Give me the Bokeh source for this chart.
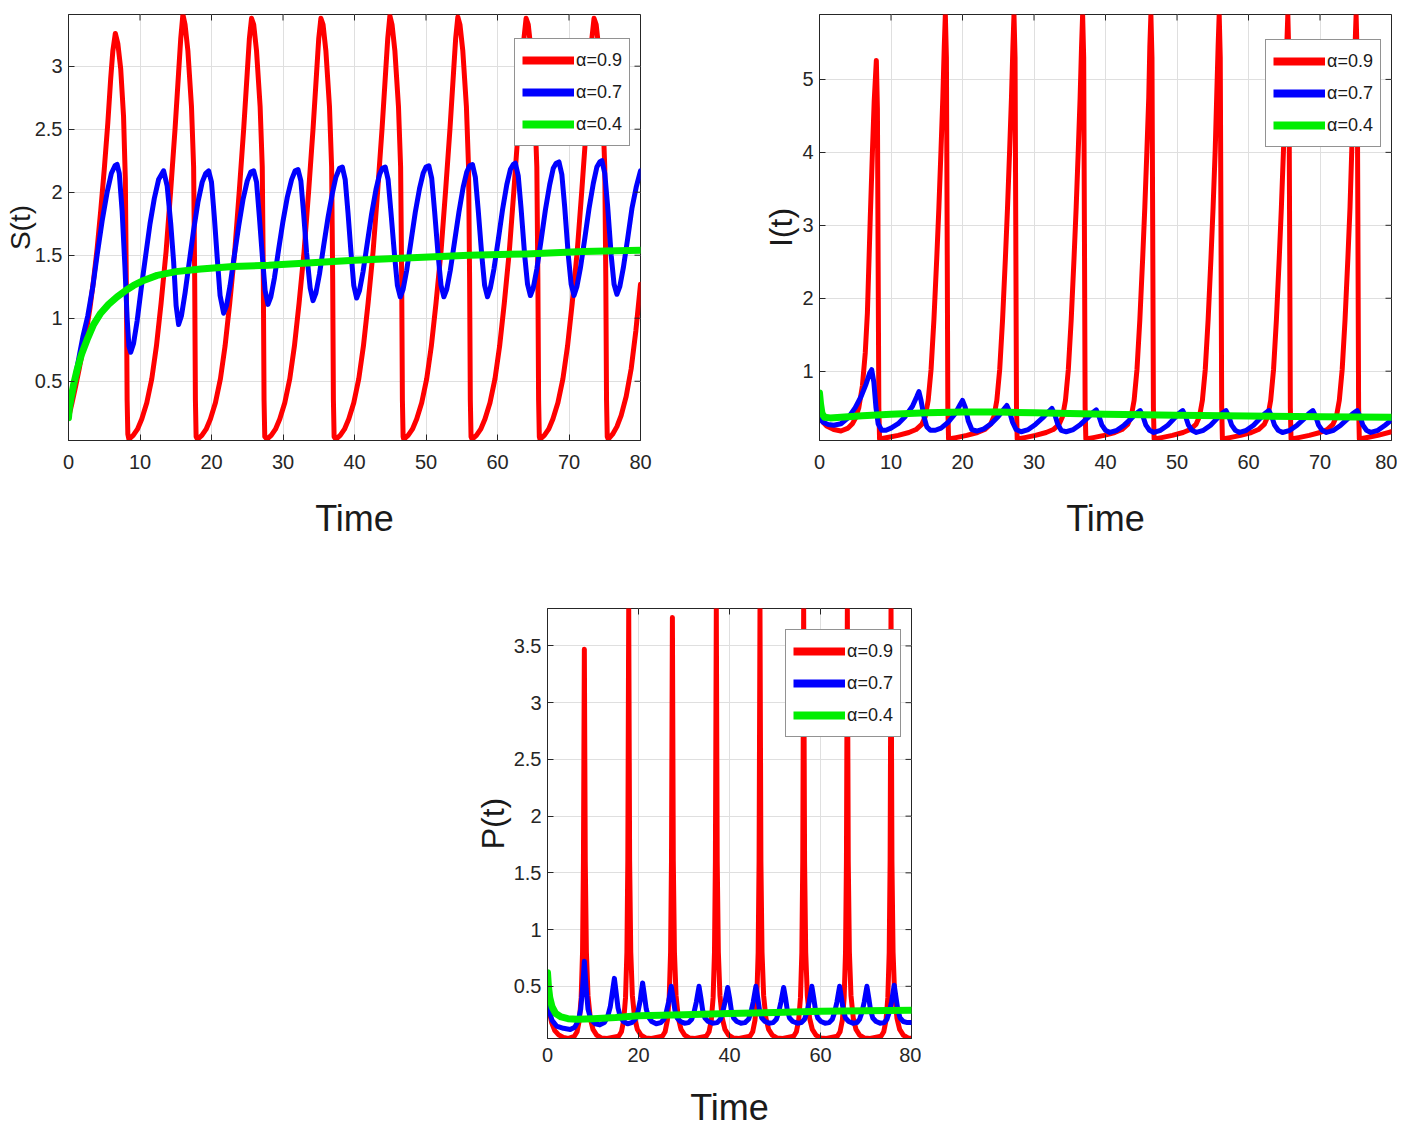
from bokeh.plotting import figure
from bokeh.models import (Range1d, FixedTicker, CustomJSTickFormatter,
                          Legend, LegendItem, Spacer)
from bokeh.layouts import column, row
from bokeh.embed import file_html
from bokeh.resources import INLINE

# ---------------- data ----------------
series_labels = ["α=0.9", "α=0.7", "α=0.4"]
x_ticks_top = [0, 10, 20, 30, 40, 50, 60, 70, 80]
x_ticks_bottom = [0, 20, 40, 60, 80]
s_ticks = [0.5, 1, 1.5, 2, 2.5, 3]
i_ticks = [1, 2, 3, 4, 5]
p_ticks = [0.5, 1, 1.5, 2, 2.5, 3, 3.5]

# S(t), alpha = 0.9
t_S_red = [0, 0.5, 1.0, 1.5, 2.0, 2.5, 3.0, 3.5, 4.0, 4.5, 5.0, 5.5, 5.9, 6.2, 6.55, 6.9, 7.3, 7.7, 7.95, 8.1, 8.2, 8.3, 8.45,
           9.05, 9.65, 10.25, 10.95, 11.65, 12.3, 12.95, 13.65, 14.3, 14.9, 15.4, 15.7, 16.0, 16.3, 16.7, 17.2, 17.5, 17.65, 17.75, 17.85, 18.05,
           18.65, 19.25, 19.85, 20.55, 21.25, 21.9, 22.55, 23.25, 23.9, 24.5, 25.0, 25.3, 25.6, 25.9, 26.3, 26.8, 27.1, 27.25, 27.35, 27.45, 27.75,
           28.35, 28.95, 29.55, 30.25, 30.95, 31.6, 32.25, 32.95, 33.6, 34.2, 34.7, 35.0, 35.3, 35.6, 36.0, 36.5, 36.8, 36.95, 37.05, 37.15, 37.4,
           38.0, 38.6, 39.2, 39.9, 40.6, 41.25, 41.9, 42.6, 43.25, 43.85, 44.35, 44.65, 44.95, 45.25, 45.65, 46.15, 46.45, 46.6, 46.7, 46.8, 46.9,
           47.5, 48.1, 48.7, 49.4, 50.1, 50.75, 51.4, 52.1, 52.75, 53.35, 53.85, 54.15, 54.45, 54.75, 55.15, 55.65, 55.95, 56.1, 56.2, 56.3, 56.45,
           57.05, 57.65, 58.25, 58.95, 59.65, 60.3, 60.95, 61.65, 62.3, 62.9, 63.4, 63.7, 64.0, 64.3, 64.7, 65.2, 65.5, 65.65, 65.75, 65.85, 65.95,
           66.55, 67.15, 67.75, 68.45, 69.15, 69.8, 70.45, 71.15, 71.8, 72.4, 72.9, 73.2, 73.5, 73.8, 74.2, 74.7, 75.0, 75.15, 75.25, 75.35, 75.5,
           76.1, 76.7, 77.3, 78.0, 78.7, 79.35, 80.0]
S_red = [0.21, 0.33, 0.46, 0.6, 0.75, 0.9, 1.08, 1.3, 1.55, 1.85, 2.18, 2.55, 2.9, 3.12, 3.26, 3.18, 2.98, 2.6, 2.1, 1.2, 0.35, 0.08, 0.04,
         0.07, 0.12, 0.2, 0.33, 0.52, 0.78, 1.12, 1.53, 2.02, 2.5, 2.95, 3.22, 3.41, 3.33, 3.12, 2.68, 2.2, 1.3, 0.35, 0.06, 0.04,
         0.07, 0.12, 0.2, 0.33, 0.52, 0.78, 1.12, 1.53, 2.02, 2.5, 2.95, 3.22, 3.38, 3.33, 3.12, 2.68, 2.2, 1.3, 0.35, 0.06, 0.04,
         0.07, 0.12, 0.2, 0.33, 0.52, 0.78, 1.12, 1.53, 2.02, 2.5, 2.95, 3.22, 3.38, 3.33, 3.12, 2.68, 2.2, 1.3, 0.35, 0.06, 0.04,
         0.07, 0.12, 0.2, 0.33, 0.52, 0.78, 1.12, 1.53, 2.02, 2.5, 2.95, 3.22, 3.40, 3.33, 3.12, 2.68, 2.2, 1.3, 0.35, 0.06, 0.04,
         0.07, 0.12, 0.2, 0.33, 0.52, 0.78, 1.12, 1.53, 2.02, 2.5, 2.95, 3.22, 3.39, 3.33, 3.12, 2.68, 2.2, 1.3, 0.35, 0.06, 0.04,
         0.07, 0.12, 0.2, 0.33, 0.52, 0.78, 1.12, 1.53, 2.02, 2.5, 2.95, 3.22, 3.38, 3.33, 3.12, 2.68, 2.2, 1.3, 0.35, 0.06, 0.04,
         0.07, 0.12, 0.2, 0.33, 0.52, 0.78, 1.12, 1.53, 2.02, 2.5, 2.95, 3.22, 3.38, 3.33, 3.12, 2.68, 2.2, 1.3, 0.35, 0.06, 0.04,
         0.08, 0.14, 0.23, 0.38, 0.6, 0.9, 1.27]

# S(t), alpha = 0.7
t_S_blue = [0, 0.5, 1.0, 1.5, 2.0, 2.7, 3.4, 4.0, 4.7, 5.4, 6.0, 6.5, 6.8, 7.1, 7.5, 7.9, 8.2, 8.45, 8.7, 9.1,
            9.6, 10.2, 10.8, 11.4, 12.0, 12.6, 13.3, 13.8, 14.3, 14.7, 15.05, 15.4,
            15.8, 16.3, 16.9, 17.5, 18.1, 18.7, 19.2, 19.6, 20.0, 20.4, 20.8, 21.2, 21.7,
            22.1, 22.6, 23.2, 23.8, 24.4, 25.0, 25.5, 25.9, 26.3, 26.7, 27.1, 27.5, 27.9,
            28.3, 28.8, 29.4, 30.0, 30.6, 31.2, 31.7, 32.1, 32.5, 32.9, 33.3, 33.8, 34.2,
            34.6, 35.1, 35.7, 36.3, 36.9, 37.4, 37.9, 38.3, 38.7, 39.1, 39.5, 39.9, 40.3,
            40.7, 41.2, 41.8, 42.4, 43.0, 43.5, 43.9, 44.3, 44.7, 45.1, 45.6, 46.0, 46.4,
            46.8, 47.3, 47.9, 48.5, 49.1, 49.6, 50.0, 50.4, 50.8, 51.2, 51.7, 52.1, 52.5,
            52.9, 53.4, 54.0, 54.6, 55.2, 55.7, 56.1, 56.5, 56.9, 57.3, 57.8, 58.2, 58.6,
            59.0, 59.5, 60.1, 60.7, 61.3, 61.8, 62.2, 62.5, 62.9, 63.3, 63.8, 64.2, 64.6,
            65.0, 65.5, 66.1, 66.7, 67.3, 67.8, 68.2, 68.6, 69.0, 69.4, 69.9, 70.3, 70.7,
            71.1, 71.6, 72.2, 72.8, 73.4, 73.9, 74.3, 74.6, 75.0, 75.4, 75.9, 76.3, 76.7,
            77.1, 77.6, 78.2, 78.8, 79.4, 80.0]
S_blue = [0.22, 0.38, 0.55, 0.7, 0.85, 1.02, 1.25, 1.5, 1.77, 2.0, 2.15, 2.21, 2.22, 2.15, 1.85, 1.4, 1.0, 0.78, 0.73, 0.8,
          0.98, 1.25, 1.5, 1.75, 1.95, 2.1, 2.17, 2.05, 1.75, 1.45, 1.1, 0.95,
          1.02, 1.2, 1.45, 1.7, 1.92, 2.08, 2.15, 2.17, 2.08, 1.8, 1.48, 1.18, 1.04,
          1.1, 1.26, 1.5, 1.73, 1.94, 2.09, 2.16, 2.17, 2.08, 1.8, 1.5, 1.22, 1.11,
          1.17, 1.32, 1.55, 1.77, 1.96, 2.1, 2.17, 2.18, 2.09, 1.82, 1.52, 1.24, 1.14,
          1.2, 1.35, 1.58, 1.8, 1.99, 2.12, 2.19, 2.2, 2.1, 1.83, 1.53, 1.26, 1.16,
          1.22, 1.37, 1.6, 1.83, 2.02, 2.14, 2.19, 2.2, 2.1, 1.84, 1.5, 1.26, 1.17,
          1.23, 1.38, 1.61, 1.84, 2.03, 2.15, 2.2, 2.21, 2.11, 1.85, 1.5, 1.26, 1.17,
          1.23, 1.38, 1.61, 1.84, 2.04, 2.16, 2.21, 2.22, 2.12, 1.86, 1.5, 1.26, 1.17,
          1.24, 1.39, 1.62, 1.86, 2.06, 2.18, 2.22, 2.23, 2.13, 1.87, 1.5, 1.27, 1.18,
          1.24, 1.39, 1.62, 1.86, 2.06, 2.19, 2.23, 2.24, 2.14, 1.88, 1.5, 1.27, 1.18,
          1.25, 1.4, 1.63, 1.87, 2.07, 2.2, 2.24, 2.25, 2.15, 1.89, 1.5, 1.27, 1.19,
          1.25, 1.4, 1.63, 1.87, 2.04, 2.17]

# S(t), alpha = 0.4
t_S_green = [0, 0.1, 0.3, 0.7, 1.2, 1.8, 2.6, 3.5, 4.5, 5.6, 6.8, 8.0, 9.1, 10.5, 12.4, 15, 18.5, 23, 28, 34, 40, 48, 56, 64, 72, 80]
S_green = [0.21, 0.28, 0.35, 0.47, 0.59, 0.71, 0.83, 0.95, 1.04, 1.11, 1.17, 1.22, 1.26, 1.3, 1.34, 1.37, 1.39, 1.41, 1.42, 1.44, 1.46, 1.48, 1.5, 1.51, 1.53, 1.54]

# I(t), alpha = 0.9
t_I_red = [0, 0.5, 1.0, 2.0, 3.0, 4.0, 4.6, 5.0, 5.5, 6.0, 6.4, 6.7, 7.1, 7.4, 7.65, 7.95, 8.1, 8.2, 8.3, 8.4,
           9.5, 11.0, 12.5, 13.5, 14.3, 14.8, 15.2, 15.6, 16.0, 16.4, 16.7, 17.0, 17.25, 17.45, 17.6,
           17.75, 17.85, 17.95, 18.05, 19.1, 20.6, 22.1, 23.1, 23.9, 24.4, 24.8, 25.2, 25.6, 26.0, 26.3, 26.6, 26.85, 27.05, 27.2,
           27.35, 27.45, 27.55, 27.65, 28.7, 30.2, 31.7, 32.7, 33.5, 34.0, 34.4, 34.8, 35.2, 35.6, 35.9, 36.2, 36.45, 36.65, 36.8,
           36.95, 37.05, 37.15, 37.25, 38.3, 39.8, 41.3, 42.3, 43.1, 43.6, 44.0, 44.4, 44.8, 45.2, 45.5, 45.8, 46.05, 46.2, 46.35,
           46.5, 46.6, 46.7, 46.8, 47.85, 49.35, 50.85, 51.85, 52.65, 53.15, 53.55, 53.95, 54.35, 54.75, 55.05, 55.35, 55.55, 55.75, 55.9,
           56.05, 56.15, 56.25, 56.35, 57.4, 58.9, 60.4, 61.4, 62.2, 62.7, 63.1, 63.5, 63.9, 64.3, 64.6, 64.9, 65.15, 65.35, 65.5,
           65.65, 65.75, 65.85, 65.95, 67.0, 68.5, 70.0, 71.0, 71.8, 72.3, 72.7, 73.1, 73.5, 73.9, 74.2, 74.45, 74.7, 74.9, 75.05,
           75.2, 75.3, 75.4, 75.5, 76.6, 78.1, 80.0]
I_red = [0.36, 0.3, 0.25, 0.2, 0.18, 0.22, 0.28, 0.35, 0.5, 0.8, 1.25, 1.8, 3.1, 4.0, 4.7, 5.26, 4.6, 2.5, 0.5, 0.07,
         0.09, 0.12, 0.16, 0.2, 0.27, 0.38, 0.6, 1.02, 1.7, 2.55, 3.25, 4.05, 4.75, 5.45, 5.89,
         5.3, 3.0, 0.5, 0.07, 0.09, 0.12, 0.16, 0.2, 0.27, 0.38, 0.6, 1.02, 1.7, 2.55, 3.25, 4.05, 4.75, 5.45, 5.89,
         5.3, 3.0, 0.5, 0.07, 0.09, 0.12, 0.16, 0.2, 0.27, 0.38, 0.6, 1.02, 1.7, 2.55, 3.25, 4.05, 4.75, 5.45, 5.89,
         5.3, 3.0, 0.5, 0.07, 0.09, 0.12, 0.16, 0.2, 0.27, 0.38, 0.6, 1.02, 1.7, 2.55, 3.25, 4.05, 4.75, 5.45, 5.89,
         5.3, 3.0, 0.5, 0.07, 0.09, 0.12, 0.16, 0.2, 0.27, 0.38, 0.6, 1.02, 1.7, 2.55, 3.25, 4.05, 4.75, 5.45, 5.89,
         5.3, 3.0, 0.5, 0.07, 0.09, 0.12, 0.16, 0.2, 0.27, 0.38, 0.6, 1.02, 1.7, 2.55, 3.25, 4.05, 4.75, 5.45, 5.89,
         5.3, 3.0, 0.5, 0.07, 0.09, 0.12, 0.16, 0.2, 0.27, 0.38, 0.6, 1.02, 1.7, 2.55, 3.25, 4.05, 4.75, 5.45, 5.89,
         5.3, 3.0, 0.5, 0.07, 0.09, 0.12, 0.17]

# I(t), alpha = 0.7
t_I_blue = [0, 0.5, 1.2, 2.0, 3.0, 4.0, 5.0, 5.8, 6.5, 7.0, 7.3, 7.6, 7.9, 8.2, 8.7, 9.3, 10.0, 11.0, 12.0, 13.0,
            13.6, 13.9, 14.2, 14.6, 15.0, 15.5, 16.2, 17.0, 18.0, 19.0, 19.6, 20.0, 20.4, 20.8, 21.3, 22.0, 23.0, 24.0, 25.0, 25.8,
            26.2, 26.6, 27.0, 27.5, 28.2, 29.2, 30.2, 31.2, 32.0, 32.5, 32.9, 33.3, 33.8, 34.5, 35.5, 36.5, 37.5, 38.2, 38.7,
            39.1, 39.5, 40.0, 40.6, 41.6, 42.6, 43.6, 44.3, 44.85,
            45.25, 45.65, 46.15, 46.75, 47.7, 48.7, 49.6, 50.25, 50.8,
            51.2, 51.6, 52.1, 52.7, 53.7, 54.7, 55.6, 56.3, 56.85,
            57.25, 57.65, 58.15, 58.75, 59.7, 60.7, 61.6, 62.3, 62.85,
            63.25, 63.65, 64.15, 64.75, 65.8, 66.8, 67.8, 68.45, 69.0,
            69.4, 69.8, 70.3, 70.9, 71.9, 72.9, 73.9, 74.6, 75.2,
            75.6, 76.0, 76.5, 77.1, 78.1, 79.1, 80.0]
I_blue = [0.36, 0.3, 0.27, 0.26, 0.28, 0.36, 0.5, 0.65, 0.82, 0.97, 1.02, 0.85, 0.5, 0.28, 0.19, 0.19, 0.22, 0.28, 0.38, 0.52,
          0.65, 0.72, 0.6, 0.38, 0.24, 0.19, 0.19, 0.22, 0.3, 0.42, 0.53, 0.6, 0.5, 0.32, 0.2, 0.18, 0.21, 0.28, 0.38, 0.48,
          0.53, 0.44, 0.3, 0.2, 0.17, 0.2, 0.27, 0.36, 0.44, 0.49, 0.41, 0.28, 0.19, 0.17, 0.2, 0.27, 0.36, 0.43, 0.47,
          0.38, 0.26, 0.19, 0.16, 0.19, 0.26, 0.35, 0.42, 0.46,
          0.38, 0.26, 0.19, 0.16, 0.19, 0.26, 0.35, 0.42, 0.46,
          0.38, 0.26, 0.19, 0.16, 0.19, 0.26, 0.35, 0.42, 0.46,
          0.38, 0.26, 0.19, 0.16, 0.19, 0.26, 0.35, 0.42, 0.46,
          0.38, 0.26, 0.19, 0.16, 0.19, 0.26, 0.35, 0.42, 0.46,
          0.38, 0.26, 0.19, 0.16, 0.19, 0.26, 0.35, 0.42, 0.46,
          0.38, 0.26, 0.19, 0.16, 0.19, 0.26, 0.33]

# I(t), alpha = 0.4
t_I_green = [0, 0.15, 0.35, 0.7, 1.5, 3, 6, 10, 15, 20, 25, 30, 40, 50, 60, 70, 80]
I_green = [0.7, 0.55, 0.42, 0.37, 0.36, 0.37, 0.39, 0.41, 0.43, 0.44, 0.44, 0.43, 0.41, 0.395, 0.385, 0.375, 0.37]

# P(t), alpha = 0.9
t_P_red = [0, 0.4, 0.9, 1.6, 2.5, 3.5, 4.5,
           5.9, 6.5, 7.0, 7.4, 7.7, 7.9, 8.1, 8.3, 8.55, 8.9, 9.4, 10.0, 10.8, 11.8, 13.1,
           15.65, 16.25, 16.75, 17.15, 17.45, 17.65, 17.85, 18.05, 18.3, 18.65, 19.15, 19.75, 20.55, 21.55, 22.85,
           25.25, 25.85, 26.35, 26.75, 27.05, 27.25, 27.45, 27.65, 27.9, 28.25, 28.75, 29.35, 30.15, 31.15, 32.45,
           34.9, 35.5, 36.0, 36.4, 36.7, 36.9, 37.1, 37.3, 37.55, 37.9, 38.4, 39.0, 39.8, 40.8, 42.1,
           44.5, 45.1, 45.6, 46.0, 46.3, 46.5, 46.7, 46.9, 47.15, 47.5, 48.0, 48.6, 49.4, 50.4, 51.7,
           54.1, 54.7, 55.2, 55.6, 55.9, 56.1, 56.3, 56.5, 56.75, 57.1, 57.6, 58.2, 59.0, 60.0, 61.3,
           63.7, 64.3, 64.8, 65.2, 65.5, 65.7, 65.9, 66.1, 66.35, 66.7, 67.2, 67.8, 68.6, 69.6, 70.9,
           73.3, 73.9, 74.4, 74.8, 75.1, 75.3, 75.5, 75.7, 75.95, 76.3, 76.8, 77.4, 78.2, 79.2, 80.0]
P_red = [0.4, 0.28, 0.18, 0.11, 0.07, 0.05, 0.04,
         0.06, 0.1, 0.2, 0.4, 0.8, 1.6, 3.47, 1.6, 0.8, 0.42, 0.22, 0.12, 0.07, 0.045, 0.04,
         0.06, 0.1, 0.2, 0.4, 0.8, 1.6, 3.83, 1.6, 0.8, 0.42, 0.22, 0.12, 0.07, 0.045, 0.04,
         0.06, 0.1, 0.2, 0.4, 0.8, 1.6, 3.75, 1.6, 0.8, 0.42, 0.22, 0.12, 0.07, 0.045, 0.04,
         0.06, 0.1, 0.2, 0.4, 0.8, 1.6, 3.83, 1.6, 0.8, 0.42, 0.22, 0.12, 0.07, 0.045, 0.04,
         0.06, 0.1, 0.2, 0.4, 0.8, 1.6, 3.83, 1.6, 0.8, 0.42, 0.22, 0.12, 0.07, 0.045, 0.04,
         0.06, 0.1, 0.2, 0.4, 0.8, 1.6, 3.83, 1.6, 0.8, 0.42, 0.22, 0.12, 0.07, 0.045, 0.04,
         0.06, 0.1, 0.2, 0.4, 0.8, 1.6, 3.82, 1.6, 0.8, 0.42, 0.22, 0.12, 0.07, 0.045, 0.04,
         0.06, 0.1, 0.2, 0.4, 0.8, 1.6, 3.83, 1.6, 0.8, 0.42, 0.22, 0.12, 0.07, 0.045, 0.042]

# P(t), alpha = 0.7
t_P_blue = [0, 0.4, 1.0, 2.0, 3.5, 5.0, 6.0, 6.8, 7.3, 7.7, 8.1, 8.5, 8.9, 9.5, 10.5, 11.5, 12.5, 13.2, 13.8, 14.3,
            14.7, 15.1, 15.5, 16.0, 16.7, 17.6, 18.5, 19.3, 19.9, 20.4, 20.9,
            21.3, 21.7, 22.2, 22.9, 23.9, 24.9, 25.6, 26.1, 26.6, 27.2,
            27.6, 28.0, 28.5, 29.2, 30.1, 31.0, 31.7, 32.2, 32.7, 33.3,
            33.7, 34.1, 34.6, 35.3, 36.3, 37.3, 38.0, 38.5, 39.0, 39.6,
            40.0, 40.4, 40.9, 41.6, 42.5, 43.4, 44.2, 44.7, 45.2, 45.8,
            46.2, 46.6, 47.1, 47.8, 48.7, 49.6, 50.3, 50.8, 51.3, 51.9,
            52.3, 52.7, 53.2, 53.9, 54.9, 55.8, 56.5, 57.0, 57.5, 58.1,
            58.5, 58.9, 59.4, 60.1, 61.0, 61.9, 62.6, 63.1, 63.6, 64.2,
            64.6, 65.0, 65.5, 66.2, 67.1, 68.0, 68.6, 69.1, 69.6, 70.2,
            70.6, 71.0, 71.5, 72.2, 73.1, 74.0, 74.6, 75.1, 75.6, 76.2,
            76.6, 77.0, 77.5, 78.2, 79.1, 80.0]
P_blue = [0.37, 0.28, 0.2, 0.15, 0.13, 0.12, 0.14, 0.2, 0.3, 0.48, 0.72, 0.48, 0.3, 0.21, 0.17, 0.16, 0.18, 0.23, 0.32, 0.46,
          0.57, 0.44, 0.31, 0.23, 0.19, 0.17, 0.18, 0.21, 0.28, 0.38, 0.53,
          0.42, 0.3, 0.23, 0.19, 0.17, 0.18, 0.21, 0.27, 0.36, 0.5,
          0.4, 0.29, 0.22, 0.19, 0.175, 0.18, 0.21, 0.27, 0.36, 0.5,
          0.4, 0.29, 0.22, 0.19, 0.175, 0.18, 0.21, 0.27, 0.36, 0.49,
          0.4, 0.29, 0.22, 0.19, 0.175, 0.18, 0.21, 0.27, 0.36, 0.5,
          0.4, 0.29, 0.22, 0.19, 0.175, 0.18, 0.21, 0.27, 0.36, 0.49,
          0.4, 0.29, 0.22, 0.19, 0.175, 0.18, 0.21, 0.27, 0.36, 0.5,
          0.4, 0.29, 0.22, 0.19, 0.175, 0.18, 0.21, 0.27, 0.36, 0.5,
          0.4, 0.29, 0.22, 0.19, 0.175, 0.18, 0.21, 0.27, 0.36, 0.5,
          0.4, 0.29, 0.22, 0.19, 0.175, 0.18, 0.21, 0.27, 0.36, 0.51,
          0.4, 0.29, 0.22, 0.19, 0.18, 0.18]

# P(t), alpha = 0.4
t_P_green = [0, 0.2, 0.5, 1.0, 1.8, 3.0, 4.5, 6.5, 10, 15, 20, 30, 40, 50, 60, 70, 80]
P_green = [0.62, 0.5, 0.4, 0.32, 0.26, 0.23, 0.215, 0.21, 0.215, 0.225, 0.24, 0.25, 0.26, 0.27, 0.28, 0.285, 0.29]

# ---------------- styling ----------------
RED, BLUE, GREEN = "#ff0000", "#0000ff", "#00ee00"
AX = "#262626"
GRID = "#dfdfdf"
FONT = "Liberation Sans"
TICK_LEN = 6  # px


def style_axis(ax, ticker, standoff):
    ax.ticker = ticker
    ax.formatter = CustomJSTickFormatter(code="return tick.toString();")
    ax.major_tick_in = TICK_LEN
    ax.major_tick_out = 0
    ax.minor_tick_in = 0
    ax.minor_tick_out = 0
    ax.axis_line_color = AX
    ax.axis_line_width = 1
    ax.major_tick_line_color = AX
    ax.major_tick_line_width = 1
    ax.major_label_text_color = AX
    ax.major_label_text_font = FONT
    ax.major_label_text_font_size = "20px"
    ax.major_label_standoff = standoff


def panel(width, height, borders, yrange, xticks, yticks, ylabel, ylab_size, ylab_stand,
          xstand, xlab_stand, data, legend_xy):
    left, right, top, bottom = borders
    fw = width - left - right
    fh = height - top - bottom
    p = figure(width=width, height=height, output_backend="svg", toolbar_location=None, tools="",
               x_range=Range1d(0, 80), y_range=Range1d(*yrange),
               min_border_left=left, min_border_right=right,
               min_border_top=top, min_border_bottom=bottom)
    p.background_fill_color = "white"
    p.border_fill_color = "white"
    p.outline_line_color = AX
    p.outline_line_width = 1
    xt = FixedTicker(ticks=xticks)
    yt = FixedTicker(ticks=yticks)
    style_axis(p.xaxis[0], xt, xstand)
    style_axis(p.yaxis[0], yt, 6)
    for ax, lab, size, stand in ((p.xaxis[0], "Time", "36px", xlab_stand),
                                 (p.yaxis[0], ylabel, ylab_size, ylab_stand)):
        ax.axis_label = lab
        ax.axis_label_text_font = FONT
        ax.axis_label_text_font_size = size
        ax.axis_label_text_font_style = "normal"
        ax.axis_label_text_color = "#1a1a1a"
        ax.axis_label_standoff = stand
    p.xgrid.ticker = xt
    p.ygrid.ticker = yt
    p.xgrid.grid_line_color = GRID
    p.ygrid.grid_line_color = GRID
    p.xgrid.grid_line_width = 1
    p.ygrid.grid_line_width = 1

    colors = [RED, BLUE, GREEN]
    widths = [5, 5, 7]
    for (tx, ty), c, w in zip(data, colors, widths):
        p.line(tx, ty, line_color=c, line_width=w, line_join="round", line_cap="round")

    # inward ticks on the top and right edges of the box (MATLAB "box on")
    y0, y1 = yrange
    dy = TICK_LEN * (y1 - y0) / fh
    dx = TICK_LEN * 80.0 / fw
    p.segment(x0=xticks, x1=xticks, y0=[y1] * len(xticks), y1=[y1 - dy] * len(xticks),
              line_color=AX, line_width=1)
    p.segment(x0=[80] * len(yticks), x1=[80 - dx] * len(yticks), y0=yticks, y1=yticks,
              line_color=AX, line_width=1)

    items = []
    for lab, c in zip(series_labels, colors):
        d = p.line([0.0], [float("nan")], line_color=c, line_width=8)
        items.append(LegendItem(label=lab, renderers=[d]))
    lg = Legend(items=items, location=legend_xy, margin=0, padding=7, spacing=4,
                glyph_width=52, glyph_height=28, label_height=28, label_standoff=2,
                label_text_font=FONT, label_text_font_size="18px", label_text_color="#1a1a1a",
                border_line_color=AX, border_line_width=1,
                background_fill_color="white", background_fill_alpha=1.0)
    p.add_layout(lg)
    return p


p1 = panel(680, 550, (68, 40, 14, 110), (0.03, 3.41), x_ticks_top, s_ticks, "S(t)", "28px", -4,
           14, 26, [(t_S_red, S_red), (t_S_blue, S_blue), (t_S_green, S_green)], (446, 294))
p2 = panel(717, 550, (139, 6, 14, 110), (0.05, 5.89), x_ticks_top, i_ticks, "I(t)", "32px", 0,
           14, 26, [(t_I_red, I_red), (t_I_blue, I_blue), (t_I_green, I_green)], (446, 293))
p3 = panel(473, 582, (99, 10, 58, 94), (0.04, 3.83), x_ticks_bottom, p_ticks, "P(t)", "32px", 0,
           9, 22, [(t_P_red, P_red), (t_P_blue, P_blue), (t_P_green, P_green)], (238, 301))

layout = column(row(p1, p2), row(Spacer(width=448, height=582), p3))

open("out.html", "w").write(file_html(layout, INLINE))
